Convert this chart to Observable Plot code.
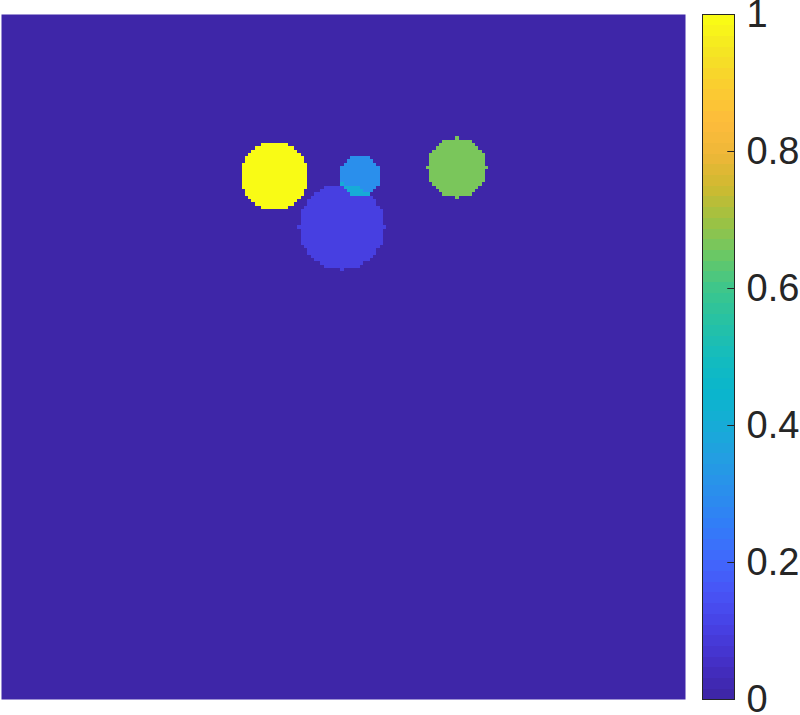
<!DOCTYPE html>
<html>
<head>
<meta charset="utf-8">
<script src="https://cdn.jsdelivr.net/npm/d3@7"></script>
<script src="https://cdn.jsdelivr.net/npm/@observablehq/plot@0.6"></script>
<style>
  html, body { margin: 0; padding: 0; background: #fff; }
  #chart { position: relative; width: 800px; height: 715px; }
  #chart > svg, #chart > figure { position: absolute; left: 0; top: 0; margin: 0; }
</style>
</head>
<body>
<div id="chart"></div>
<script>
// Grid size (cells per side)
const gridSize = 208;
// Circles drawn on the grid (cell coordinates, radius in cells, value)
const circleX = [82.5, 103, 108.5, 138];
const circleY = [48.5, 64, 48.5, 46];
const circleR = [10.4, 13, 6.2, 9];
const circleValue = [1, 0.1, 0.3, 0.67];
// Colorbar ticks
const colorbarTicks = [0, 0.2, 0.4, 0.6, 0.8, 1];

// parula-like colour stops (style)
const parulaStops = [
  [62,38,168],[68,48,200],[71,65,228],[72,84,246],[64,104,252],[50,125,248],
  [42,143,236],[35,158,226],[22,172,214],[10,182,204],[20,188,190],[38,193,165],
  [60,198,140],[105,200,102],[155,194,68],[205,186,48],[238,183,56],[254,188,60],
  [250,205,48],[245,228,36],[249,251,21]
].map(([r,g,b]) => d3.rgb(r,g,b).formatHex());
const parula = d3.piecewise(d3.interpolateRgb, parulaStops);
// 64-step colormap like MATLAB
const parula64 = t => parula(Math.round(Math.max(0, Math.min(1, t)) * 63) / 63);

// Build the grid values (sum of circles covering each cell)
const values = new Float64Array(gridSize * gridSize);
for (let j = 0; j < gridSize; ++j) {
  for (let i = 0; i < gridSize; ++i) {
    let v = 0;
    for (let k = 0; k < circleX.length; ++k) {
      const dx = i - circleX[k], dy = j - circleY[k];
      if (dx * dx + dy * dy <= circleR[k] * circleR[k]) v += circleValue[k];
    }
    values[j * gridSize + i] = v;
  }
}

const colorScale = {type: "linear", domain: [0, 1], interpolate: () => parula64};

const main = Plot.plot({
  width: 800,
  height: 715,
  marginLeft: 1,
  marginTop: 14,
  marginRight: 115,
  marginBottom: 16,
  x: {domain: [0, gridSize], axis: null},
  y: {domain: [0, gridSize], axis: null, reverse: true},
  color: colorScale,
  style: {background: "white"},
  marks: [
    Plot.raster(Array.from(values), {
      width: gridSize, height: gridSize,
      x1: 0, y1: 0, x2: gridSize, y2: gridSize,
      fill: d => d,
      imageRendering: "pixelated"
    })
  ]
});

const bar = Plot.plot({
  width: 800,
  height: 715,
  marginLeft: 702,
  marginRight: 66,
  marginTop: 14,
  marginBottom: 16,
  x: {domain: [0, 1], axis: null},
  y: {domain: [0, 1]},
  color: colorScale,
  style: {background: "none", overflow: "visible", fontFamily: "'Liberation Sans', Arial, Helvetica, sans-serif"},
  marks: [
    Plot.raster({
      x1: 0, x2: 1, y1: 0, y2: 1, width: 1, height: 64,
      fill: (x, y) => Math.floor(y * 64) / 63,
      imageRendering: "pixelated"
    }),
    Plot.ruleY(colorbarTicks, {y: d => d, x1: 0.79, x2: 1, stroke: "#262626", strokeWidth: 1}),
    Plot.frame({stroke: "#262626", strokeWidth: 1}),
    Plot.axisY(colorbarTicks, {
      anchor: "right", tickSize: 0, tickPadding: 12, fontSize: 38,
      tickFormat: d => String(d), fill: "#262626", label: null
    })
  ]
});

const chart = document.getElementById("chart");
chart.appendChild(main);
chart.appendChild(bar);
</script>
</body>
</html>
